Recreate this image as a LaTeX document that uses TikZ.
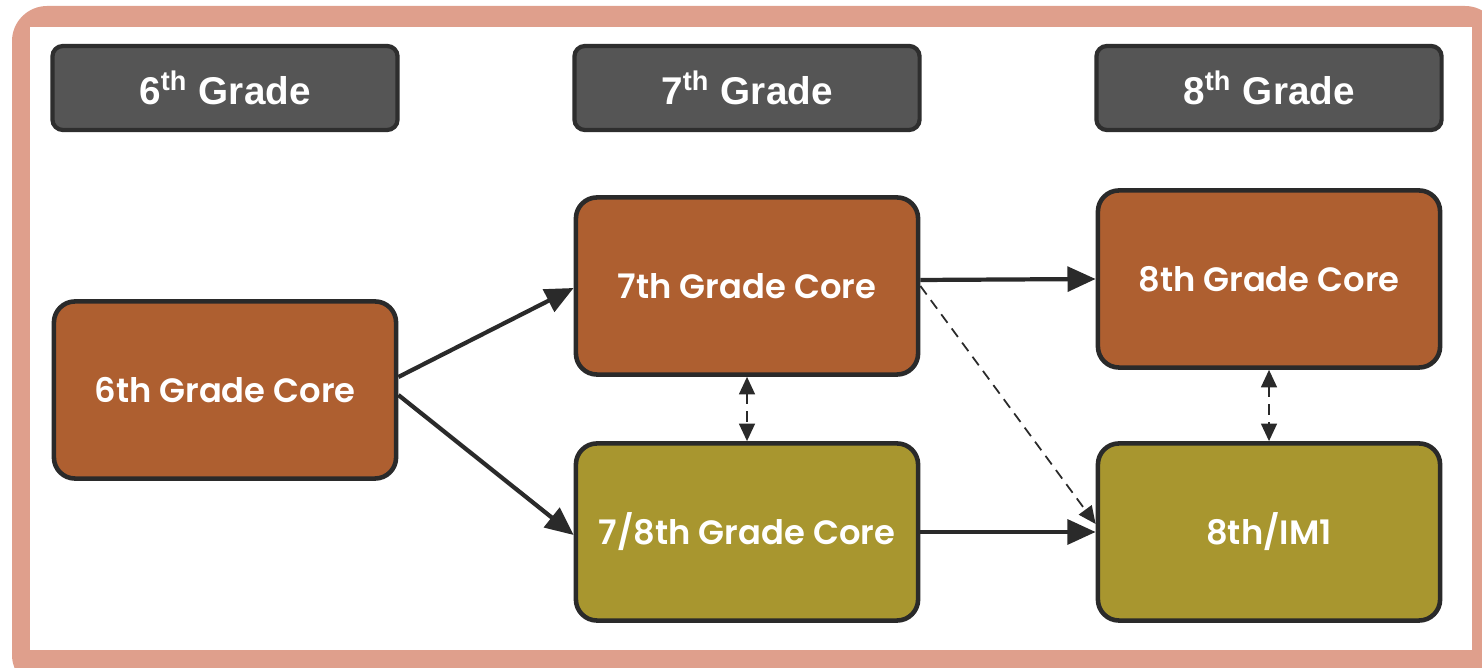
\documentclass[tikz,border=0pt]{standalone}
\usepackage{fontspec}
\setmainfont{Liberation Sans}
\newfontfamily\boxfont{Poppins}[UprightFont=* SemiBold, BoldFont=* Bold]
\usetikzlibrary{arrows.meta,calc}
\definecolor{frame}{HTML}{DF9F8C}
\definecolor{hdrfill}{HTML}{555555}
\definecolor{hdrline}{HTML}{2E2E2E}
\definecolor{brownc}{HTML}{AE5F30}
\definecolor{olivec}{HTML}{A8962F}
\definecolor{edgec}{HTML}{2A2A2A}
\tikzset{
  hdr/.style={draw=hdrline, fill=hdrfill, line width=1.2pt, rounded corners=3pt,
    minimum width=3.45cm, minimum height=0.84cm, text=white,
    font=\fontsize{11}{13}\selectfont\bfseries},
  core/.style={draw=edgec, line width=1.3pt, rounded corners=6pt,
    minimum width=3.42cm, minimum height=1.77cm, text=white,
    font=\boxfont\fontsize{9.6}{11}\selectfont},
  brownbox/.style={core, fill=brownc},
  olivebox/.style={core, fill=olivec},
  flow/.style={draw=edgec, line width=1.2pt, -{Triangle[length=8pt,width=7pt]}},
  swap/.style={draw=edgec, line width=0.6pt, dashed, dash pattern=on 3pt off 2pt,
    {Triangle[length=5pt,width=4.5pt]}-{Triangle[length=5pt,width=4.5pt]}},
  skip/.style={draw=edgec, line width=0.5pt, dash pattern=on 3pt off 2pt,
    -{Triangle[length=5pt,width=4.5pt]}}
}
\begin{document}
\begin{tikzpicture}[x=0.01cm,y=-0.01cm]
\useasboundingbox (0,0) rectangle (1482,668);
% frame
\fill[frame, rounded corners=10pt] (12,6) rectangle (1500,690);
\fill[white] (30,27) rectangle (1472,650);
% headers
\node[hdr] (h6) at (225,88) {6\textsuperscript{th} Grade};
\node[hdr] (h7) at (747,88) {7\textsuperscript{th} Grade};
\node[hdr] (h8) at (1269,88) {8\textsuperscript{th} Grade};
% boxes
\node[brownbox] (c6) at (225,390) {6th Grade Core};
\node[brownbox] (c7) at (747,286) {7th Grade Core};
\node[olivebox] (c78) at (747,532) {7/8th Grade Core};
\node[brownbox] (c8) at (1269,279) {8th Grade Core};
\node[olivebox] (im1) at (1269,532) {8th/IM1};
% connectors
\draw[flow] ($(c6.east)+(0,-13)$) -- ($(c7.west)+(0,2)$);
\draw[flow] ($(c6.east)+(0,5)$) -- ($(c78.west)+(0,3)$);
\draw[flow] ($(c7.east)+(0,-6)$) -- (c8.west);
\draw[flow] (c78.east) -- (im1.west);
\draw[skip] ($(c7.east)+(0,0)$) -- ($(im1.west)+(0,-8)$);
\draw[swap] (c7.south) -- (c78.north);
\draw[swap] (c8.south) -- (im1.north);
\end{tikzpicture}
\end{document}
